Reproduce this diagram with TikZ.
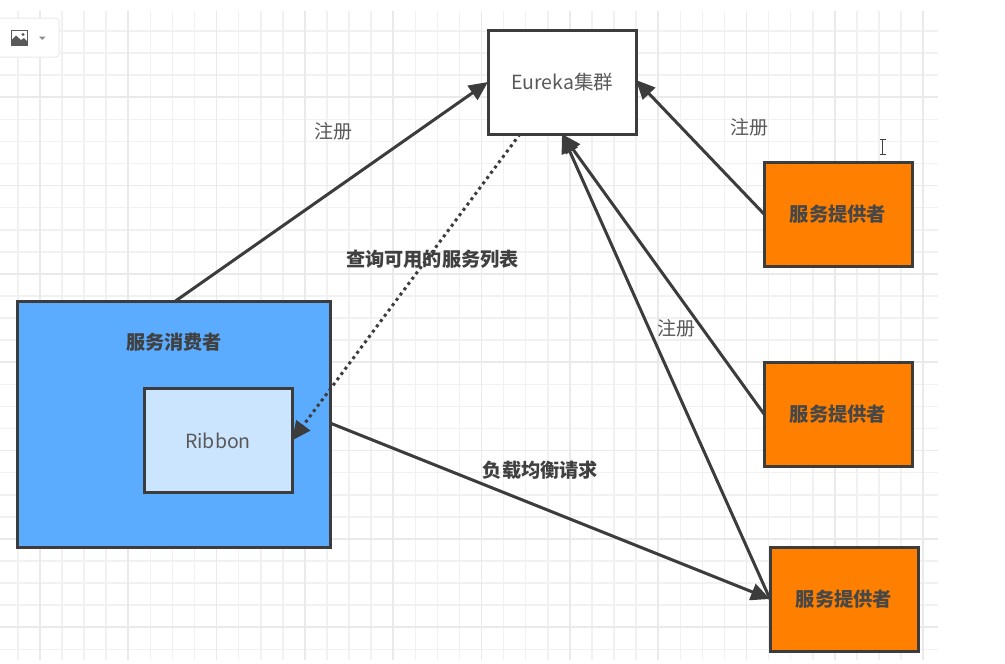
\documentclass[tikz,border=0pt]{standalone}
\usepackage{fontspec}
\setmainfont{Noto Sans CJK SC}
\usetikzlibrary{arrows.meta}
\definecolor{gridminor}{HTML}{F1F1F1}
\definecolor{gridmajor}{HTML}{EAEAEA}
\definecolor{linedark}{HTML}{3C3C3C}
\definecolor{orangebox}{HTML}{FF8000}
\definecolor{bluebox}{HTML}{5BACFF}
\definecolor{paleblue}{HTML}{CCE5FF}
\tikzset{
  box/.style = {draw = linedark, line width = 3pt, minimum width = 148pt, minimum height = 104pt, inner sep = 0pt, outer sep = 0pt, text = black!65, font = \fontsize{19.5}{22}\selectfont},
  provider/.style = {box, fill = orangebox, text = black!72, font = \fontsize{19.3}{22}\selectfont\bfseries},
  conn/.style = {draw = linedark, line width = 3pt, -{Triangle[length = 19pt, width = 17pt]}},
  lbl/.style = {text = black!65, inner sep = 0pt, font = \fontsize{19}{22}\selectfont},
  lblbold/.style = {text = black!75, inner sep = 0pt, font = \fontsize{19.2}{22}\selectfont\bfseries}
}
\begin{document}
\begin{tikzpicture}[x = 1pt, y = -1pt]
\useasboundingbox (0,0) rectangle (1005,664);
\fill[white] (0,0) rectangle (1005,664);
\pgfmathsetmacro\gridstep{22.08}
\foreach \n in {0,...,41} \draw [gridminor, line width = 1.5pt] (\n*\gridstep+17.9,11) -- (\n*\gridstep+17.9,660);
\foreach \n in {1,...,29} \draw [gridminor, line width = 1.5pt] (0,\n*\gridstep+9) -- (938,\n*\gridstep+9);
\foreach \n in {0,...,10} \draw [gridmajor, line width = 1.7pt] (\n*\gridstep*4+40,11) -- (\n*\gridstep*4+40,660);
\foreach \n in {1,...,7} \draw [gridmajor, line width = 1.7pt] (0,\n*\gridstep*4+9) -- (938,\n*\gridstep*4+9);
% toolbar
\draw [black!8, fill = white, line width = 1pt, rounded corners = 3pt] (-5,18) rectangle (59,57);
\draw [black!65, fill = white, line width = 1pt] (11,30) rectangle (27.5,45.5);
\fill [black!65] (11.5,45) -- (11.5,40) -- (16,35.5) -- (21,40) -- (24,38) -- (27,41) -- (27,45) -- cycle;
\fill [black!65] (23,34.5) circle (1.7);
\fill [black!45] (39,36.5) -- (45.5,36.5) -- (42.25,40) -- cycle;
% cursor
\draw [black!75, line width = 1pt] (879.5,139.5) -- (885.5,139.5) (882.5,139.5) -- (882.5,154.5) (879.5,154.5) -- (885.5,154.5);
% nodes
\node [box, fill = white] (eureka) at (562,82) {Eureka集群};
\node [provider] (providerA) at (838,214) {服务提供者};
\node [provider] (providerB) at (838,414) {服务提供者};
\node [provider] (providerC) at (844,599) {服务提供者};
\node [box, fill = bluebox, minimum width = 313pt, minimum height = 246pt] (consumer) at (173.5,424) {};
\node [lblbold] (consumerlabel) at (174,342) {服务消费者};
\node [box, fill = paleblue] (ribbon) at (218,440.5) {Ribbon};
% connectors
\draw [conn] ([xshift = 2pt]consumer.north) -- (eureka.west);
\draw [conn, dash pattern = on 3pt off 3.6pt] ([xshift = 32pt]eureka.south west) -- (ribbon.east);
\draw [conn] (providerA.west) -- ([yshift = 2pt]eureka.east);
\draw [conn] (providerB.west) -- (eureka.south);
\draw [conn] (providerC.west) -- (eureka.south);
\draw [conn] ([yshift = 1pt]consumer.east) -- (providerC.west);
% labels
\node [lbl] (regA) at (333,131) {注册};
\node [lbl] (regB) at (749,127) {注册};
\node [lbl] (regC) at (676,328) {注册};
\node [lblbold] (query) at (432.5,259) {查询可用的服务列表};
\node [lblbold] (balance) at (540.5,470) {负载均衡请求};
\end{tikzpicture}
\end{document}
